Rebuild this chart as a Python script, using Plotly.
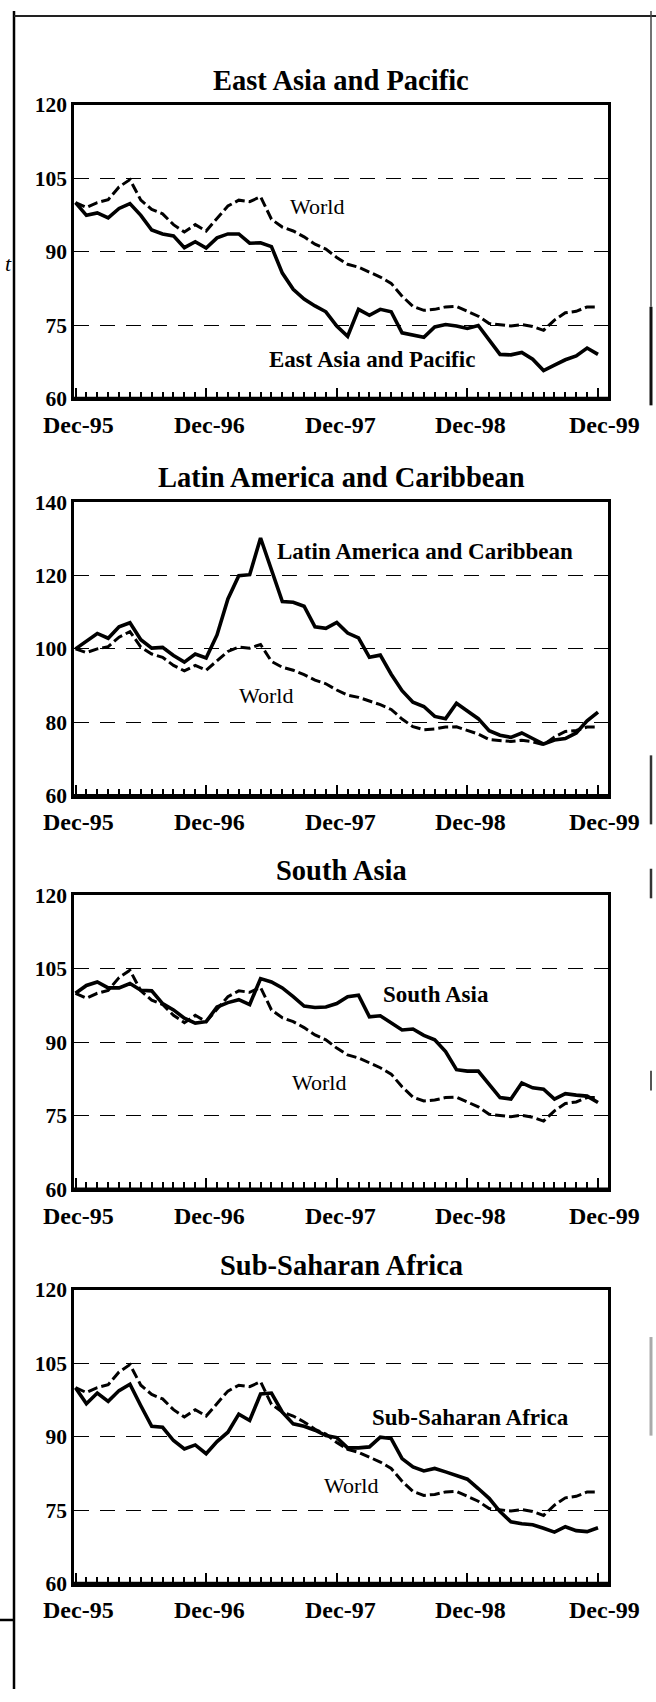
import plotly.graph_objects as go

# ---------------- data (monthly index, Dec-95 = 100) ----------------
months = list(range(49))  # Dec-95 ... Dec-99
x_labels = ["Dec-95", "Dec-96", "Dec-97", "Dec-98", "Dec-99"]
x_label_pos = [0, 12, 24, 36, 48]

world = [100, 99.0, 100.0, 100.6, 103.2, 104.7, 100.5, 98.6, 97.7, 95.5,
         94.0, 95.5, 94.2, 96.8, 99.3, 100.5, 100.2, 101.2, 96.6, 95.0,
         94.2, 93.0, 91.5, 90.5, 88.8, 87.4, 86.8, 85.8, 84.8, 83.5,
         80.9, 78.8, 78.0, 78.2, 78.7, 78.8, 77.8, 76.8, 75.3, 75.1,
         74.8, 75.1, 74.7, 73.9, 76.0, 77.5, 77.8, 78.7, 78.7]

east_asia = [100, 97.4, 97.9, 96.9, 98.8, 99.8, 97.4, 94.4, 93.6, 93.2,
             90.8, 92.0, 90.7, 92.8, 93.6, 93.6, 91.7, 91.8, 91.0, 85.6,
             82.3, 80.3, 78.9, 77.7, 74.8, 72.7, 78.2, 77.0, 78.2, 77.7,
             73.4, 73.0, 72.5, 74.6, 75.1, 74.8, 74.3, 74.9, 71.8, 69.0,
             68.9, 69.4, 68.0, 65.7, 66.8, 67.9, 68.7, 70.3, 69.0]

latin_america = [100, 102.0, 104.2, 102.9, 106.0, 107.1, 102.5, 100.2, 100.4, 98.2,
                 96.4, 98.6, 97.5, 103.8, 113.6, 119.9, 120.2, 130.2, 121.7, 112.9,
                 112.7, 111.6, 106.0, 105.6, 107.2, 104.3, 103.0, 97.7, 98.3, 93.1,
                 88.6, 85.5, 84.3, 81.6, 81.0, 85.2, 83.1, 81.0, 77.7, 76.5,
                 75.9, 77.1, 75.6, 74.1, 75.2, 75.6, 77.1, 80.4, 82.8]

south_asia = [100, 101.6, 102.3, 101.1, 101.1, 102.0, 100.6, 100.5, 97.9, 96.6,
              94.9, 93.9, 94.2, 97.2, 98.1, 98.7, 97.7, 103.0, 102.3, 101.1,
              99.3, 97.4, 97.1, 97.2, 97.9, 99.3, 99.6, 95.2, 95.4, 93.9,
              92.5, 92.7, 91.4, 90.5, 88.1, 84.4, 84.1, 84.1, 81.4, 78.7,
              78.4, 81.7, 80.7, 80.4, 78.4, 79.5, 79.2, 79.0, 77.7]

sub_saharan = [100, 96.7, 98.9, 97.2, 99.4, 100.7, 96.3, 92.1, 91.9, 89.2,
               87.5, 88.3, 86.5, 89.0, 90.9, 94.6, 93.3, 98.7, 98.9, 95.0,
               92.6, 92.1, 91.3, 90.2, 89.8, 87.7, 87.7, 87.9, 89.9, 89.6,
               85.5, 83.8, 83.0, 83.5, 82.8, 82.1, 81.3, 79.4, 77.4, 74.7,
               72.6, 72.2, 72.0, 71.3, 70.5, 71.6, 70.8, 70.6, 71.4]

titles = ["East Asia and Pacific", "Latin America and Caribbean",
          "South Asia", "Sub-Saharan Africa"]
series = [east_asia, latin_america, south_asia, sub_saharan]
y_ticks = [[60, 75, 90, 105, 120], [60, 80, 100, 120, 140],
           [60, 75, 90, 105, 120], [60, 75, 90, 105, 120]]
# label positions (month, value) for the inline series names and "World"
name_pos = [(27.2, 67.9), (32.1, 126.6), (33.1, 99.8), (36.3, 94.0)]
world_pos = [(22.2, 99.3), (17.5, 87.3), (22.4, 81.7), (25.3, 80.0)]

# ---------------- layout geometry (pixels) ----------------
W, H = 656, 1702
BOX_L, BOX_R = 74, 608
boxes = [(95, 393), (498, 796), (897, 1195), (1297, 1595)]
FONT = "Liberation Serif"

def py(v):
    return 1 - v / H

fig = go.Figure()
annotations = []
shapes = []

for i in range(4):
    n = i + 1
    sfx = "" if n == 1 else str(n)
    xa, ya = "x" + sfx, "y" + sfx
    top, bot = boxes[i]
    fig.add_trace(go.Scatter(x=months, y=world, mode="lines",
                             line=dict(color="black", width=3, dash="10px,4px"),
                             xaxis=xa, yaxis=ya, showlegend=False, hoverinfo="skip"))
    fig.add_trace(go.Scatter(x=months, y=series[i], mode="lines",
                             line=dict(color="black", width=3.6),
                             xaxis=xa, yaxis=ya, showlegend=False, hoverinfo="skip"))
    yt = y_ticks[i]
    fig.layout["xaxis" + sfx] = dict(
        domain=[BOX_L / W, BOX_R / W], range=[-0.14, 48.92], anchor=ya,
        showline=True, mirror=True, linecolor="black", linewidth=2.5,
        ticks="inside", tickvals=x_label_pos, ticklen=11, tickwidth=2, tickcolor="black",
        minor=dict(tickvals=[m for m in months if m % 12], ticks="inside",
                   ticklen=7, tickwidth=2, tickcolor="black", showgrid=False),
        showticklabels=False, showgrid=False, zeroline=False, fixedrange=True)
    fig.layout["yaxis" + sfx] = dict(
        domain=[py(bot), py(top)], range=[yt[0], yt[-1]], anchor=xa,
        showline=True, mirror=True, linecolor="black", linewidth=2.5,
        tickvals=yt, ticks="", ticklabelstandoff=0,
        tickfont=dict(family=FONT, size=21.5, color="black", weight="bold"),
        showgrid=True, gridcolor="black", gridwidth=1.3, griddash="15px,11px",
        zeroline=False, fixedrange=True)
    # thicker bottom axis line
    shapes.append(dict(type="line", xref=xa + " domain", yref=ya + " domain",
                       x0=0, x1=1, y0=0, y1=0, line=dict(color="black", width=3.5)))
    # panel title
    annotations.append(dict(text=titles[i], xref="paper", yref="paper",
                            x=(BOX_L + BOX_R) / 2 / W, y=py(top - 25),
                            xanchor="center", yanchor="middle", showarrow=False,
                            font=dict(family=FONT, size=28.5, color="black", weight="bold")))
    # x tick labels
    for lab, pos in zip(x_labels, x_label_pos):
        annotations.append(dict(text=lab, xref=xa, yref="paper",
                                x=pos + (0.6 if pos == 48 else 0.3), y=py(bot + 27),
                                xanchor="center", yanchor="middle", showarrow=False,
                                font=dict(family=FONT, size=24, color="black", weight="bold")))
    # inline labels
    annotations.append(dict(text=titles[i], xref=xa, yref=ya,
                            x=name_pos[i][0], y=name_pos[i][1],
                            xanchor="center", yanchor="middle", showarrow=False,
                            font=dict(family=FONT, size=23, color="black", weight="bold")))
    annotations.append(dict(text="World", xref=xa, yref=ya,
                            x=world_pos[i][0], y=world_pos[i][1],
                            xanchor="center", yanchor="middle", showarrow=False,
                            font=dict(family=FONT, size=22, color="black")))

# page decorations from the scanned page
def vline(x, y0, y1, color="black", width=2.5):
    return dict(type="line", xref="paper", yref="paper", x0=x / W, x1=x / W,
                y0=py(y0), y1=py(y1), line=dict(color=color, width=width))

shapes += [
    vline(14, 0, H),
    dict(type="line", xref="paper", yref="paper", x0=14 / W, x1=1, y0=py(5), y1=py(5),
         line=dict(color="#222222", width=2)),
    dict(type="line", xref="paper", yref="paper", x0=0, x1=14 / W, y0=py(1632), y1=py(1632),
         line=dict(color="black", width=2.5)),
    vline(651, 0, 300, "#444444", 1.5),
    vline(651, 300, 400, "#111111", 3),
    vline(651, 755, 825, "#333333", 2.5),
    vline(651, 870, 900, "#333333", 2.5),
    vline(651, 1075, 1095, "#555555", 2),
    vline(651, 1345, 1445, "#aaaaaa", 3),
]
annotations.append(dict(text="<i>t</i>", xref="paper", yref="paper", x=3 / W, y=py(256),
                        xanchor="left", yanchor="middle", showarrow=False,
                        font=dict(family=FONT, size=22, color="black")))

fig.update_layout(width=W, height=H, margin=dict(l=0, r=0, t=0, b=0),
                  paper_bgcolor="white", plot_bgcolor="white",
                  annotations=annotations, shapes=shapes, showlegend=False)

fig.write_html("out.html", config={"displayModeBar": False},
               post_script="document.body.style.margin='0px';")
